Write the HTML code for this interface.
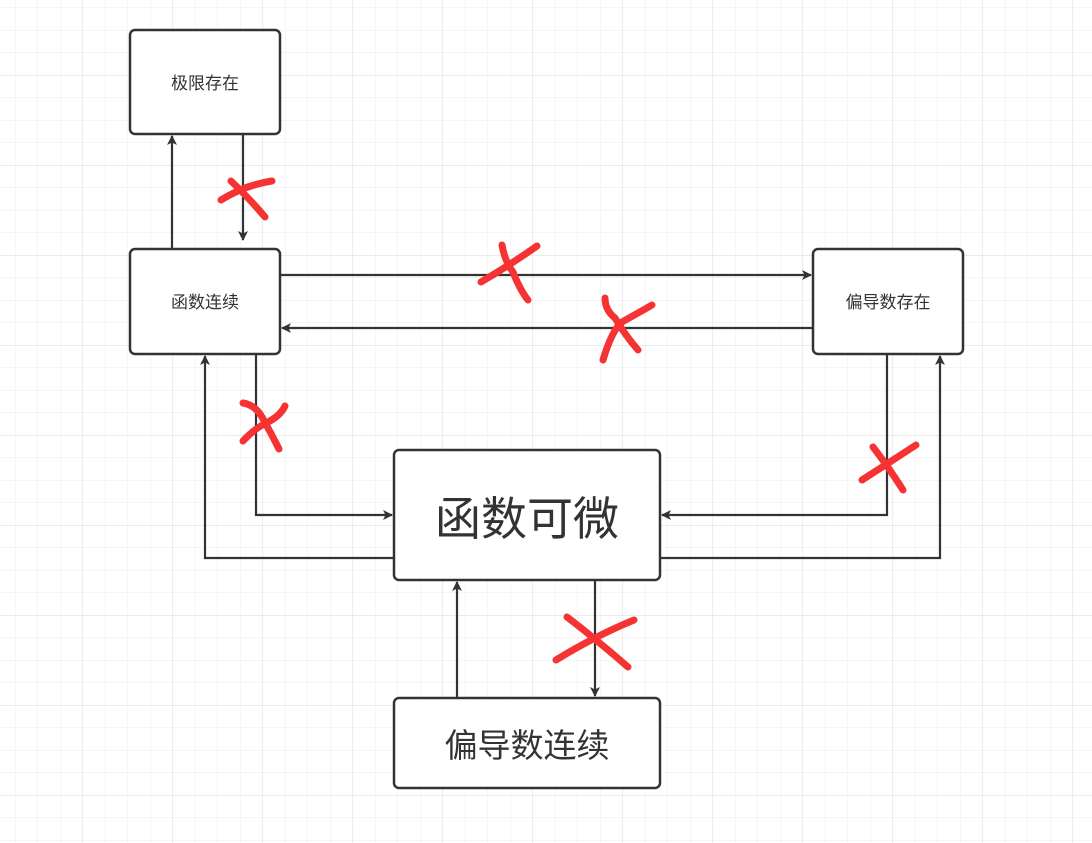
<!DOCTYPE html>
<html><head><meta charset="utf-8"><style>
html,body{margin:0;padding:0;background:#fff}
svg{display:block}
text{font-family:"Liberation Sans","Noto Sans CJK SC",sans-serif;fill:#333}
</style></head><body>
<svg width="1092" height="843" viewBox="0 0 1092 843" xmlns="http://www.w3.org/2000/svg">
<defs>
<pattern id="g" width="22.5" height="22.5" patternUnits="userSpaceOnUse" x="15" y="7.5">
<path d="M0 0H22.5M0 0V22.5" stroke="#ebebeb" stroke-width="1" fill="none"/>
</pattern>
<pattern id="G" width="90" height="90" patternUnits="userSpaceOnUse" x="82.5" y="75">
<path d="M0 0H90M0 0V90" stroke="#dedede" stroke-width="1.2" fill="none"/>
</pattern>
<marker id="a" markerWidth="10" markerHeight="10" refX="9" refY="5" orient="auto" markerUnits="userSpaceOnUse">
<path d="M0 0L10 5L0 10L2.5 5Z" fill="#333"/>
</marker>
</defs>
<rect width="1092" height="843" fill="url(#g)"/>
<rect width="1092" height="843" fill="url(#G)"/>
<g stroke="#333" stroke-width="2.2" fill="none">
<path d="M172 249V136" marker-end="url(#a)"/>
<path d="M243 134V240" marker-end="url(#a)"/>
<path d="M280 275H811" marker-end="url(#a)"/>
<path d="M813 328H282" marker-end="url(#a)"/>
<path d="M256 354V515H392" marker-end="url(#a)"/>
<path d="M394 558H205V356" marker-end="url(#a)"/>
<path d="M887 354V515H662" marker-end="url(#a)"/>
<path d="M660 558H940V356" marker-end="url(#a)"/>
<path d="M457 698V582" marker-end="url(#a)"/>
<path d="M595 580V696" marker-end="url(#a)"/>
</g>
<g stroke="#333" stroke-width="2.5" fill="#fff">
<rect x="130" y="30" width="150" height="104" rx="5"/>
<rect x="130" y="249" width="150" height="105" rx="5"/>
<rect x="813" y="249" width="150" height="105" rx="5"/>
<rect x="394" y="450" width="266" height="130" rx="5"/>
<rect x="394" y="698" width="266" height="90" rx="5"/>
</g>
<text x="205" y="89" font-size="17" text-anchor="middle">极限存在</text>
<text x="205" y="308" font-size="17" text-anchor="middle">函数连续</text>
<text x="888" y="308" font-size="17" text-anchor="middle">偏导数存在</text>
<text x="527" y="535" font-size="46" text-anchor="middle">函数可微</text>
<text x="527" y="757" font-size="33" text-anchor="middle">偏导数连续</text>
<g stroke="#f53333" stroke-width="7" stroke-linecap="round" fill="none">
<path d="M221 200Q245 185 272 181"/><path d="M231 181Q248 197 265 217"/>
<path d="M481 282Q510 265 537 246"/><path d="M502 245Q505 262 513 272Q520 290 528 300"/>
<path d="M605 298Q605 310 615 318Q625 335 638 350"/><path d="M603 360Q612 330 622 322Q640 312 652 305"/>
<path d="M243 403Q255 405 262 417Q272 435 279 449"/><path d="M243 441Q255 428 268 422Q280 416 285 406"/>
<path d="M862 480Q890 462 916 445"/><path d="M873 447Q887 465 903 490"/>
<path d="M556 660Q595 636 634 620"/><path d="M567 617Q597 640 628 667"/>
</g>
</svg>
</body></html>
